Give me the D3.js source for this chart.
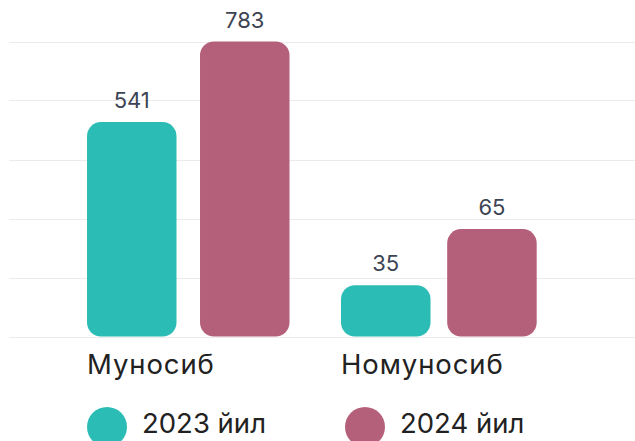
<!DOCTYPE html>
<html>
<head>
<meta charset="utf-8">
<script src="https://cdn.jsdelivr.net/npm/d3@7/dist/d3.min.js"></script>
<style>
  html, body { margin: 0; padding: 0; background: #fff; }
  svg { display: block; font-family: Inter, Roboto, sans-serif; }
</style>
</head>
<body>
<svg id="chart" width="635" height="441"></svg>
<script>
// data
const categories = ['Муносиб', 'Номуносиб'];
const series = ['2023 йил', '2024 йил'];
const colors = ['#2bbdb5', '#b5607b'];
// value labels shown above each bar
const labels2023 = [541, 35];
const labels2024 = [783, 65];
// bar heights, in axis units (0–100, grid every 20)
const bars2023 = [72.7, 17.4];
const bars2024 = [100, 36.4];
const gridTicks = [0, 20, 40, 60, 80, 100];

const W = 635, H = 441;
const svg = d3.select('#chart');

const y = d3.scaleLinear().domain([0, 100]).range([336.5, 41.5]);
const x0 = d3.scaleBand().domain(categories).range([61, 569])
  .paddingInner(0.2047).paddingOuter(0.1024);
// the two groups are not packed the same way in the original
const groupWidth = [202.5, 195.7];
const groupPad = [0.208, 0.157];

// grid
svg.append('g').selectAll('line').data(gridTicks).join('line')
  .attr('x1', 9).attr('x2', W)
  .attr('y1', d => Math.round(y(d)) + 0.5).attr('y2', d => Math.round(y(d)) + 0.5)
  .attr('stroke', '#ebebeb').attr('stroke-width', 1.2);

const rows = categories.map((c, i) => ({
  cat: c,
  x1: d3.scaleBand().domain(series).range([0, groupWidth[i]]).paddingInner(groupPad[i]),
  items: [
    { s: series[0], v: bars2023[i], label: labels2023[i], color: colors[0] },
    { s: series[1], v: bars2024[i], label: labels2024[i], color: colors[1] },
  ]
}));
rows.forEach(r => r.items.forEach(it => { it.x1 = r.x1; }));

const grp = svg.append('g').selectAll('g').data(rows).join('g')
  .attr('transform', d => `translate(${x0(d.cat)},0)`);

// bars: rounded top and bottom
grp.selectAll('rect').data(d => d.items).join('rect')
  .attr('x', d => d.x1(d.s))
  .attr('y', d => y(d.v))
  .attr('width', d => d.x1.bandwidth())
  .attr('height', d => y(0) - y(d.v))
  .attr('rx', 14).attr('ry', 14)
  .attr('fill', d => d.color);

// value labels
grp.selectAll('text.val').data(d => d.items).join('text')
  .attr('class', 'val')
  .attr('x', d => d.x1(d.s) + d.x1.bandwidth() / 2)
  .attr('y', d => y(d.v) - 14)
  .attr('text-anchor', 'middle')
  .attr('fill', '#3d4454')
  .attr('font-size', 22)
  .text(d => d.label);

// category labels
svg.append('g').selectAll('text').data(categories).join('text')
  .attr('x', d => x0(d))
  .attr('y', 374)
  .attr('fill', '#222')
  .attr('font-size', 27.5)
  .attr('letter-spacing', 0.9)
  .text(d => d);

// legend
const legX = [107, 365];
const leg = svg.append('g').selectAll('g').data(series).join('g')
  .attr('transform', (d, i) => `translate(${legX[i]},427)`);
leg.append('circle').attr('r', 20).attr('fill', (d, i) => colors[i]);
leg.append('text')
  .attr('x', 35).attr('y', 6)
  .attr('fill', '#222')
  .attr('font-size', 27.5)
  .text(d => d);
</script>
</body>
</html>
